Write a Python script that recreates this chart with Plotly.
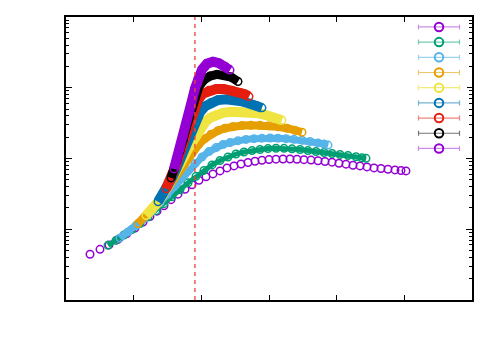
import plotly.graph_objects as go

# ---- data ----
x1 = [0.355, 0.502, 0.635, 0.768, 0.901, 1.020, 1.138, 1.241, 1.345, 1.448, 1.552, 1.655, 1.759, 1.862, 1.965,
      2.069, 2.172, 2.276, 2.379, 2.483, 2.586, 2.690, 2.793, 2.896, 3.000, 3.103, 3.207, 3.310, 3.414, 3.517,
      3.621, 3.724, 3.828, 3.931, 4.034, 4.138, 4.241, 4.345, 4.448, 4.552, 4.655, 4.758, 4.862, 4.951, 5.024]
y1 = [0.0443, 0.0520, 0.0601, 0.0718, 0.0871, 0.1041, 0.1265, 0.151, 0.180, 0.215, 0.262, 0.313, 0.367, 0.425, 0.491,
      0.550, 0.606, 0.668, 0.736, 0.785, 0.837, 0.879, 0.914, 0.944, 0.965, 0.978, 0.984, 0.984, 0.975, 0.962,
      0.950, 0.928, 0.908, 0.887, 0.856, 0.832, 0.803, 0.785, 0.760, 0.736, 0.722, 0.706, 0.690, 0.677, 0.668]

x2 = [0.621, 0.739, 0.857, 0.975, 1.094, 1.212, 1.330, 1.448, 1.566, 1.685, 1.803, 1.921, 2.039, 2.158, 2.276,
      2.394, 2.512, 2.630, 2.749, 2.867, 2.985, 3.103, 3.222, 3.340, 3.458, 3.576, 3.695, 3.813, 3.931, 4.049,
      4.167, 4.286, 4.374, 4.433]
y2 = [0.0592, 0.0695, 0.0830, 0.0992, 0.1205, 0.1486, 0.183, 0.230, 0.288, 0.361, 0.453, 0.559, 0.679, 0.811, 0.937,
      1.050, 1.157, 1.234, 1.295, 1.338, 1.382, 1.395, 1.391, 1.368, 1.338, 1.295, 1.254, 1.214, 1.175, 1.138,
      1.102, 1.057, 1.026, 1.006]

x3 = [0.798, 0.916, 1.034, 1.153, 1.271, 1.389, 1.493, 1.596, 1.699, 1.803, 1.906, 2.010, 2.113, 2.217, 2.320,
      2.424, 2.542, 2.660, 2.778, 2.896, 3.015, 3.133, 3.251, 3.369, 3.488, 3.606, 3.724, 3.813, 3.872]
y3 = [0.0754, 0.0915, 0.1129, 0.1416, 0.180, 0.237, 0.308, 0.398, 0.516, 0.668, 0.851, 1.050, 1.254, 1.427, 1.572,
      1.677, 1.789, 1.860, 1.909, 1.940, 1.952, 1.940, 1.909, 1.866, 1.818, 1.743, 1.661, 1.598, 1.547]

x4 = [1.064, 1.167, 1.271, 1.360, 1.448, 1.522, 1.596, 1.670, 1.744, 1.818, 1.892, 1.965, 2.054, 2.143, 2.246,
      2.350, 2.468, 2.601, 2.734, 2.867, 3.000, 3.133, 3.266, 3.384, 3.488]
y4 = [0.1205, 0.151, 0.189, 0.241, 0.318, 0.398, 0.507, 0.646, 0.824, 1.050, 1.316, 1.598, 1.909, 2.208, 2.472,
      2.680, 2.831, 2.924, 2.953, 2.953, 2.905, 2.813, 2.680, 2.512, 2.355]

x5 = [1.182, 1.271, 1.360, 1.433, 1.507, 1.566, 1.626, 1.685, 1.744, 1.803, 1.862, 1.921, 1.980, 2.054, 2.128,
      2.217, 2.320, 2.438, 2.571, 2.704, 2.837, 2.956, 3.074, 3.192]
y5 = [0.156, 0.189, 0.241, 0.308, 0.398, 0.516, 0.646, 0.811, 1.050, 1.359, 1.732, 2.172, 2.680, 3.253, 3.762,
      4.144, 4.422, 4.567, 4.598, 4.523, 4.351, 4.104, 3.799, 3.470]

x6 = [1.360, 1.433, 1.507, 1.566, 1.626, 1.685, 1.744, 1.803, 1.862, 1.921, 1.980, 2.054, 2.143, 2.246, 2.364,
      2.483, 2.601, 2.719, 2.823, 2.896]
y6 = [0.245, 0.313, 0.411, 0.532, 0.701, 0.953, 1.316, 1.848, 2.594, 3.527, 4.494, 5.456, 6.209, 6.689, 6.886,
      6.798, 6.412, 5.953, 5.545, 5.197]

x7 = [1.478, 1.537, 1.581, 1.626, 1.670, 1.714, 1.759, 1.803, 1.847, 1.892, 1.951, 2.025, 2.113, 2.217, 2.335,
      2.453, 2.571, 2.645, 2.704]
y7 = [0.373, 0.483, 0.626, 0.811, 1.084, 1.474, 2.036, 2.858, 3.886, 5.114, 6.732, 8.304, 9.24, 9.61, 9.61,
      9.24, 8.58, 8.09, 7.54]

x8 = [1.552, 1.596, 1.640, 1.685, 1.729, 1.773, 1.818, 1.862, 1.906, 1.965, 2.039, 2.128, 2.231, 2.335, 2.438, 2.542]
y8 = [0.532, 0.690, 0.922, 1.274, 1.818, 2.637, 3.886, 5.636, 7.785, 10.41, 12.85, 14.62, 15.45, 15.25, 14.16, 12.24]

x9 = [1.596, 1.640, 1.685, 1.729, 1.773, 1.818, 1.862, 1.906, 1.951, 2.010, 2.084, 2.172, 2.261, 2.350, 2.424]
y9 = [0.712, 0.984, 1.382, 2.004, 2.953, 4.422, 6.624, 9.76, 13.49, 18.04, 21.90, 23.36, 22.26, 20.20, 17.75]

vline_x = 1.905

colors = ["#9400d3", "#009e73", "#56b4e9", "#e69f00", "#f0e442",
          "#0072b2", "#e51e10", "#000000", "#9400d3"]
legend_bar_colors = ["rgba(148,0,211,0.45)", "rgba(0,158,115,0.55)", "rgba(86,180,233,0.6)",
                     "rgba(230,159,0,0.6)", "rgba(240,228,66,0.7)", "rgba(0,114,178,0.55)",
                     "rgba(229,30,16,0.55)", "rgba(0,0,0,0.55)", "rgba(148,0,211,0.45)"]
band_widths = [0, 5, 7, 8, 10, 10, 10, 9, 10]

xs_all = [x1, x2, x3, x4, x5, x6, x7, x8, x9]
ys_all = [y1, y2, y3, y4, y5, y6, y7, y8, y9]

fig = go.Figure()
for xs, ys, col, lw in zip(xs_all, ys_all, colors, band_widths):
    fig.add_trace(go.Scatter(
        x=xs, y=ys,
        mode="markers" if lw == 0 else "lines+markers",
        line=dict(color=col, width=max(lw, 1)),
        marker=dict(symbol="circle-open", size=7.5, color=col, line=dict(width=1.5, color=col)),
        showlegend=False, hoverinfo="skip",
    ))

# legend keys (no text) drawn on a hidden axis pair
for i, (col, bc) in enumerate(zip(colors, legend_bar_colors)):
    fig.add_trace(go.Scatter(
        x=[0], y=[i], xaxis="x2", yaxis="y2", mode="markers",
        marker=dict(symbol="circle-open", size=8.5, color=col, line=dict(width=2, color=col)),
        error_x=dict(type="constant", value=0.732, color=bc, thickness=1.2, width=2.5),
        showlegend=False, hoverinfo="skip",
    ))

fig.add_shape(type="line", xref="x", yref="paper", x0=vline_x, x1=vline_x, y0=0, y1=1,
              line=dict(color="#e8473a", width=1.3, dash="4px,4px"), layer="above")

axis_common = dict(showline=True, linecolor="black", linewidth=1.5, mirror="ticks",
                   ticks="inside", tickcolor="black", showgrid=False, zeroline=False,
                   showticklabels=False)

fig.update_layout(
    width=500, height=350,
    margin=dict(l=58, r=36, t=7, b=58),
    paper_bgcolor="white", plot_bgcolor="white",
    xaxis=dict(range=[0, 6], dtick=1, tick0=0, ticklen=5, **axis_common),
    yaxis=dict(type="log", range=[-2, 2], dtick=1, ticklen=6,
               minor=dict(ticks="inside", ticklen=3, tickcolor="black", dtick="D1", showgrid=False),
               **axis_common),
    xaxis2=dict(domain=[0.8498, 0.9877], range=[-1, 1], visible=False, anchor="y2"),
    yaxis2=dict(domain=[0.5086, 0.9918], range=[8.5, -0.5], visible=False, anchor="x2"),
    showlegend=False,
)

fig.write_html("out.html")
